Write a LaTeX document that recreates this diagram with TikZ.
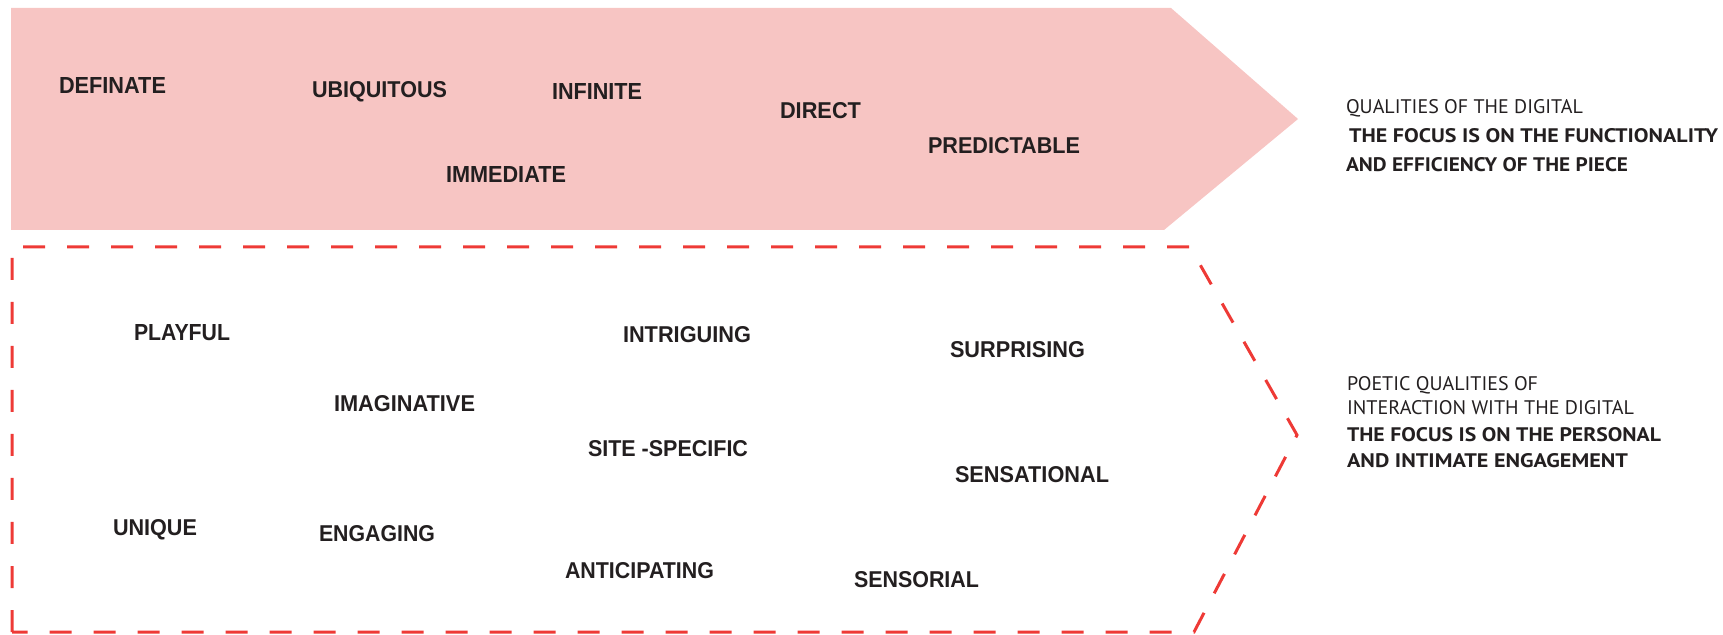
\documentclass[tikz,border=0pt]{standalone}
\usepackage{fontspec}
\setmainfont{Liberation Sans}
\newfontfamily\myr{PT Sans}
\usepackage{graphicx}
\definecolor{pinkfill}{HTML}{F7C5C3}
\definecolor{dashred}{HTML}{EE3A36}
\definecolor{ink}{HTML}{231F20}
\newcommand{\qw}[2]{\resizebox{#1pt}{8pt}{\bfseries #2}}
\newcommand{\rlin}[2]{\resizebox{#1pt}{7pt}{\myr #2}}
\newcommand{\rbol}[2]{\resizebox{#1pt}{7pt}{\myr\bfseries #2}}
\begin{document}
\begin{tikzpicture}[x=0.5pt, y=-0.5pt,
  word/.style={anchor=base west, inner sep=0pt, outer sep=0pt, text=ink},
  dashline/.style={draw=dashred, line width=1.5pt, dash pattern=on 11pt off 11pt}]
\useasboundingbox (0,0) rectangle (1723,635);
% pink arrow
\fill[pinkfill] (11,8) -- (1171,8) -- (1298,119) -- (1164,230) -- (11,230) -- cycle;
% dashed arrow
\path[dashline] (12,632) -- (12,247) -- (1190,247) -- (1297,435) -- (1194,632) -- cycle;
% digital qualities
\node[word] (definate) at (59,94) {\qw{53.5}{DEFINATE}};
\node[word] (ubiquitous) at (312,98) {\qw{67.5}{UBIQUITOUS}};
\node[word] (infinite) at (552,100) {\qw{45}{INFINITE}};
\node[word] (direct) at (780,119) {\qw{40.5}{DIRECT}};
\node[word] (predictable) at (928,154) {\qw{76}{PREDICTABLE}};
\node[word] (immediate) at (446,183) {\qw{60}{IMMEDIATE}};
% poetic qualities
\node[word] (playful) at (134,341) {\qw{48}{PLAYFUL}};
\node[word] (intriguing) at (623,343) {\qw{64}{INTRIGUING}};
\node[word] (surprising) at (950,358) {\qw{67.5}{SURPRISING}};
\node[word] (imaginative) at (334,412) {\qw{70.5}{IMAGINATIVE}};
\node[word] (sitespecific) at (588,457) {\qw{80}{SITE -SPECIFIC}};
\node[word] (sensational) at (955,483) {\qw{77}{SENSATIONAL}};
\node[word] (unique) at (113,536) {\qw{42}{UNIQUE}};
\node[word] (engaging) at (319,541) {\qw{58}{ENGAGING}};
\node[word] (anticipating) at (565,578) {\qw{74.5}{ANTICIPATING}};
\node[word] (sensorial) at (854,587) {\qw{62.5}{SENSORIAL}};
% right-hand captions
\node[word] (capAa) at (1346,114) {\rlin{118.5}{QUALITIES OF THE DIGITAL}};
\node[word] (capAb) at (1349,143) {\rbol{184.5}{THE FOCUS IS ON THE FUNCTIONALITY}};
\node[word] (capAc) at (1346,172) {\rbol{141}{AND EFFICIENCY OF THE PIECE}};
\node[word] (capBa) at (1347,391) {\rlin{95.5}{POETIC QUALITIES OF}};
\node[word] (capBb) at (1347,415) {\rlin{143.5}{INTERACTION WITH THE DIGITAL}};
\node[word] (capBc) at (1347,442) {\rbol{157}{THE FOCUS IS ON THE PERSONAL}};
\node[word] (capBd) at (1347,467) {\rbol{140.5}{AND INTIMATE ENGAGEMENT}};
\end{tikzpicture}
\end{document}
